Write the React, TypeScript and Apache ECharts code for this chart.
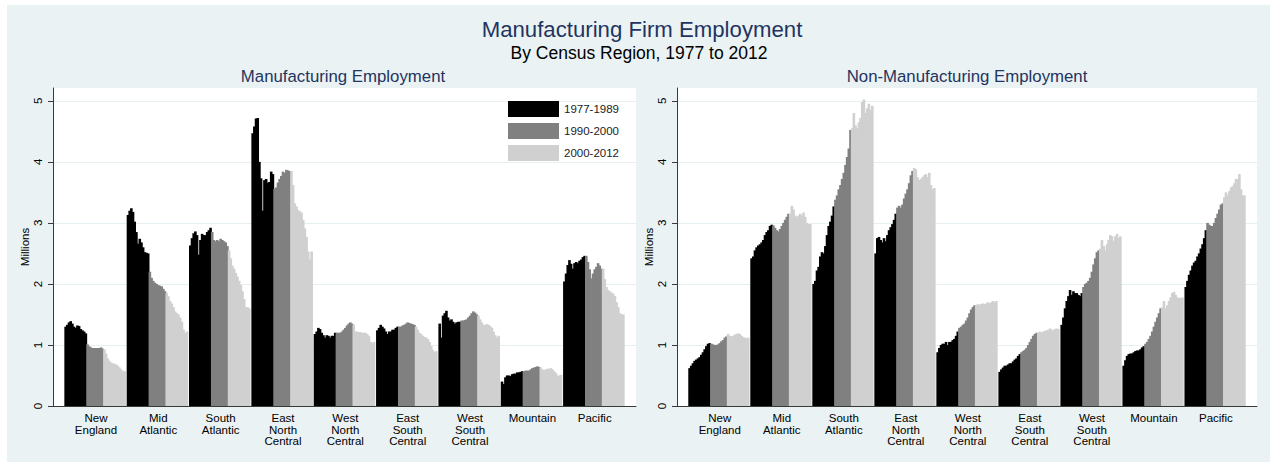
import React, { useEffect, useRef } from "react";
import * as echarts from "echarts";

const FONT = "'Liberation Sans', Arial, sans-serif";

const regionLabels = [
  "New\nEngland",
  "Mid\nAtlantic",
  "South\nAtlantic",
  "East\nNorth\nCentral",
  "West\nNorth\nCentral",
  "East\nSouth\nCentral",
  "West\nSouth\nCentral",
  "Mountain",
  "Pacific",
];

const years = [
  1977, 1978, 1979, 1980, 1981, 1982, 1983, 1984, 1985, 1986, 1987, 1988, 1989,
  1990, 1991, 1992, 1993, 1994, 1995, 1996, 1997, 1998, 1999,
  2000, 2001, 2002, 2003, 2004, 2005, 2006, 2007, 2008, 2009, 2010, 2011, 2012,
];

const periods = ["1977-1989", "1990-2000", "2000-2012"];
const periodStartYears = [1977, 1990, 2000];
const periodColors = ["#000000", "#808080", "#d0d0d0"];

const yTicks = [0, 1, 2, 3, 4, 5];

// Manufacturing employment (millions), 1977..2012
const mfgNewEngland = [1.30, 1.33, 1.37, 1.39, 1.35, 1.30, 1.28, 1.32, 1.31, 1.26, 1.24, 1.22, 1.19,
  1.01, 0.98, 0.96, 0.95, 0.95, 0.95, 0.95, 0.95, 0.96, 0.94,
  0.93, 0.86, 0.78, 0.74, 0.71, 0.70, 0.69, 0.68, 0.66, 0.63, 0.60, 0.57, 0.57];
const mfgMidAtlantic = [3.13, 3.20, 3.24, 3.18, 3.02, 2.85, 2.66, 2.74, 2.68, 2.60, 2.52, 2.51, 2.50,
  2.20, 2.10, 2.05, 2.02, 2.00, 1.98, 1.97, 1.96, 1.92, 1.88,
  1.85, 1.80, 1.72, 1.68, 1.62, 1.55, 1.52, 1.50, 1.45, 1.38, 1.25, 1.20, 1.22];
const mfgSouthAtlantic = [2.63, 2.75, 2.83, 2.86, 2.80, 2.48, 2.72, 2.82, 2.80, 2.80, 2.85, 2.88, 2.92,
  2.85, 2.72, 2.70, 2.72, 2.70, 2.74, 2.72, 2.70, 2.68, 2.62,
  2.55, 2.42, 2.30, 2.25, 2.18, 2.12, 2.05, 1.98, 1.88, 1.75, 1.62, 1.62, 1.60];
const mfgEastNorthCentral = [4.47, 4.58, 4.71, 4.72, 4.00, 3.73, 3.20, 3.70, 3.72, 3.66, 3.67, 3.84, 3.80,
  3.56, 3.58, 3.66, 3.72, 3.77, 3.84, 3.82, 3.87, 3.86, 3.85,
  3.85, 3.62, 3.32, 3.27, 3.21, 3.19, 3.17, 3.05, 2.91, 2.77, 2.53, 2.40, 2.53];
const mfgWestNorthCentral = [1.18, 1.22, 1.28, 1.26, 1.20, 1.16, 1.12, 1.16, 1.15, 1.12, 1.15, 1.15, 1.20,
  1.20, 1.20, 1.20, 1.22, 1.25, 1.28, 1.32, 1.35, 1.37, 1.35,
  1.33, 1.22, 1.22, 1.21, 1.21, 1.20, 1.20, 1.20, 1.18, 1.15, 1.05, 1.03, 1.05];
const mfgEastSouthCentral = [1.24, 1.28, 1.33, 1.30, 1.27, 1.22, 1.18, 1.22, 1.22, 1.25, 1.25, 1.28, 1.30,
  1.30, 1.30, 1.32, 1.33, 1.35, 1.37, 1.36, 1.35, 1.34, 1.33,
  1.30, 1.25, 1.20, 1.18, 1.15, 1.13, 1.12, 1.10, 1.05, 0.98, 0.92, 0.88, 0.90];
const mfgWestSouthCentral = [1.35, 1.12, 1.48, 1.52, 1.56, 1.45, 1.40, 1.42, 1.38, 1.35, 1.37, 1.38, 1.38,
  1.40, 1.40, 1.41, 1.42, 1.45, 1.48, 1.52, 1.55, 1.53, 1.50,
  1.48, 1.42, 1.37, 1.33, 1.33, 1.34, 1.33, 1.31, 1.28, 1.22, 1.16, 1.12, 1.15];
const mfgMountain = [0.40, 0.36, 0.47, 0.50, 0.50, 0.49, 0.52, 0.53, 0.53, 0.55, 0.55, 0.56, 0.57,
  0.57, 0.58, 0.58, 0.58, 0.60, 0.62, 0.63, 0.64, 0.65, 0.64,
  0.63, 0.60, 0.59, 0.60, 0.61, 0.61, 0.62, 0.60, 0.57, 0.54, 0.50, 0.50, 0.51];
const mfgPacific = [2.04, 2.17, 2.31, 2.39, 2.33, 2.25, 2.34, 2.36, 2.34, 2.38, 2.40, 2.44, 2.46,
  2.46, 2.36, 2.24, 2.09, 2.17, 2.24, 2.28, 2.34, 2.30, 2.25,
  2.25, 2.08, 1.95, 1.90, 1.88, 1.86, 1.84, 1.80, 1.70, 1.62, 1.52, 1.50, 1.50];

// Non-manufacturing employment (millions), 1977..2012
const nonNewEngland = [0.62, 0.66, 0.70, 0.74, 0.76, 0.78, 0.80, 0.84, 0.88, 0.93, 0.98, 1.02, 1.03,
  1.02, 1.01, 1.00, 1.00, 1.01, 1.03, 1.06, 1.08, 1.12, 1.14,
  1.18, 1.15, 1.14, 1.15, 1.17, 1.18, 1.19, 1.18, 1.15, 1.13, 1.12, 1.11, 1.12];
const nonMidAtlantic = [2.42, 2.45, 2.55, 2.60, 2.63, 2.65, 2.68, 2.72, 2.80, 2.85, 2.88, 2.95, 2.97,
  2.96, 2.92, 2.88, 2.86, 2.90, 2.95, 3.00, 3.05, 3.10, 3.15,
  3.15, 3.28, 3.22, 3.12, 3.10, 3.12, 3.15, 3.12, 3.17, 3.10, 3.00, 2.98, 2.98];
const nonSouthAtlantic = [2.00, 2.05, 2.22, 2.28, 2.45, 2.52, 2.50, 2.62, 2.80, 2.95, 3.02, 3.12, 3.27,
  3.38, 3.45, 3.55, 3.62, 3.72, 3.82, 3.95, 4.08, 4.22, 4.52,
  4.55, 4.80, 4.60, 4.55, 4.65, 4.72, 4.98, 5.02, 4.80, 4.88, 4.95, 4.85, 4.92];
const nonEastNorthCentral = [2.50, 2.75, 2.77, 2.72, 2.68, 2.75, 2.70, 2.80, 2.88, 2.93, 2.98, 3.05, 3.15,
  3.25, 3.28, 3.25, 3.30, 3.40, 3.48, 3.55, 3.65, 3.78, 3.85,
  3.90, 3.88, 3.75, 3.70, 3.72, 3.75, 3.78, 3.80, 3.75, 3.82, 3.62, 3.55, 3.57];
const nonWestNorthCentral = [0.88, 0.95, 1.00, 1.02, 1.02, 1.05, 1.00, 1.05, 1.05, 1.08, 1.10, 1.15, 1.22,
  1.28, 1.30, 1.33, 1.35, 1.40, 1.45, 1.52, 1.58, 1.62, 1.65,
  1.65, 1.67, 1.66, 1.67, 1.68, 1.67, 1.68, 1.70, 1.68, 1.70, 1.72, 1.70, 1.72];
const nonEastSouthCentral = [0.56, 0.60, 0.63, 0.66, 0.66, 0.68, 0.70, 0.70, 0.73, 0.76, 0.78, 0.82, 0.85,
  0.88, 0.90, 0.92, 0.95, 1.00, 1.05, 1.10, 1.15, 1.18, 1.20,
  1.20, 1.22, 1.20, 1.22, 1.23, 1.24, 1.25, 1.27, 1.25, 1.24, 1.26, 1.27, 1.26];
const nonWestSouthCentral = [1.33, 1.45, 1.60, 1.72, 1.80, 1.90, 1.82, 1.88, 1.85, 1.85, 1.82, 1.80, 1.85,
  1.95, 2.00, 2.02, 2.05, 2.10, 2.20, 2.32, 2.42, 2.52, 2.55,
  2.58, 2.72, 2.62, 2.55, 2.65, 2.72, 2.80, 2.78, 2.70, 2.78, 2.82, 2.75, 2.78];
const nonMountain = [0.66, 0.75, 0.82, 0.85, 0.86, 0.86, 0.88, 0.90, 0.91, 0.91, 0.93, 0.96, 0.98,
  1.02, 1.05, 1.10, 1.15, 1.22, 1.30, 1.38, 1.45, 1.52, 1.60,
  1.62, 1.72, 1.60, 1.65, 1.72, 1.78, 1.85, 1.87, 1.82, 1.78, 1.77, 1.77, 1.78];
const nonPacific = [1.95, 2.05, 2.15, 2.22, 2.30, 2.35, 2.38, 2.45, 2.50, 2.58, 2.65, 2.75, 2.88,
  3.00, 2.97, 2.95, 2.95, 3.00, 3.08, 3.15, 3.22, 3.30, 3.32,
  3.42, 3.50, 3.45, 3.52, 3.58, 3.60, 3.65, 3.72, 3.72, 3.80, 3.55, 3.45, 3.45];

const mfgPanel = [mfgNewEngland, mfgMidAtlantic, mfgSouthAtlantic, mfgEastNorthCentral,
  mfgWestNorthCentral, mfgEastSouthCentral, mfgWestSouthCentral, mfgMountain, mfgPacific];
const nonPanel = [nonNewEngland, nonMidAtlantic, nonSouthAtlantic, nonEastNorthCentral,
  nonWestNorthCentral, nonEastSouthCentral, nonWestSouthCentral, nonMountain, nonPacific];

const PAD = 7;

function periodOf(y: number) {
  let p = 0;
  periodStartYears.forEach((s, i) => { if (y >= s) p = i; });
  return p;
}

function buildPanel(values: number[][]) {
  const cats: string[] = [];
  const labelMap: Record<number, string> = {};
  const data: (number | null)[][] = periods.map(() => []);
  const push = (name: string, p: number, v: number | null) => {
    cats.push(name);
    data.forEach((arr, q) => arr.push(q === p ? v : null));
  };
  for (let i = 0; i < PAD; i++) push("padL" + i, -1, null);
  regionLabels.forEach((r, k) => {
    if (k > 0) push("gap" + k, -1, null);
    years.forEach((y, j) => {
      if (j === 18) labelMap[cats.length] = r;
      push(r + " " + y, periodOf(y), values[k][j]);
    });
  });
  for (let i = 0; i < PAD; i++) push("padR" + i, -1, null);
  return { cats, labelMap, data };
}

export default function App() {
  const ref = useRef<HTMLDivElement>(null);
  useEffect(() => {
    if (!ref.current) return;
    const chart = echarts.init(ref.current, undefined, { renderer: "svg" });
    const panels = [buildPanel(mfgPanel), buildPanel(nonPanel)];
    const grids = [
      { left: 53, top: 88, width: 583, height: 318 },
      { left: 677, top: 88, width: 580, height: 318 },
    ];
    const axisColor = "#3a3a3a";
    const option: any = {
      animation: false,
      backgroundColor: "#ffffff",
      textStyle: { fontFamily: FONT },
      graphic: [
        {
          type: "rect", z: -100, silent: true,
          shape: { x: 7, y: 5, width: 1263, height: 457 },
          style: { fill: "#eaf2f3" },
        },
        {
          type: "text", x: 642, y: 29, silent: true,
          style: { text: "Manufacturing Firm Employment", fontSize: 22.2, fill: "#1f3461", align: "center", verticalAlign: "middle", fontFamily: FONT },
        },
        {
          type: "text", x: 639, y: 53, silent: true,
          style: { text: "By Census Region, 1977 to 2012", fontSize: 17.5, fill: "#000000", align: "center", verticalAlign: "middle", fontFamily: FONT },
        },
        {
          type: "text", x: 343, y: 76, silent: true,
          style: { text: "Manufacturing Employment", fontSize: 16.8, fill: "#1f3461", align: "center", verticalAlign: "middle", fontFamily: FONT },
        },
        {
          type: "text", x: 967, y: 76, silent: true,
          style: { text: "Non-Manufacturing Employment", fontSize: 16.8, fill: "#1f3461", align: "center", verticalAlign: "middle", fontFamily: FONT },
        },
      ],
      legend: {
        data: periods,
        orient: "vertical",
        left: 508,
        top: 101,
        padding: 0,
        itemWidth: 51,
        itemHeight: 16,
        itemGap: 6,
        icon: "rect",
        selectedMode: false,
        textStyle: { fontSize: 11.5, color: "#222222", fontFamily: FONT },
      },
      grid: grids.map((g) => ({ ...g, show: true, backgroundColor: "#ffffff", borderWidth: 0 })),
      xAxis: panels.map((p, g) => ({
        type: "category",
        gridIndex: g,
        data: p.cats,
        axisLine: { lineStyle: { color: axisColor, width: 1 } },
        axisTick: { show: false },
        splitLine: { show: false },
        axisLabel: {
          interval: (i: number) => p.labelMap[i] !== undefined,
          formatter: (_v: string, i: number) => p.labelMap[i] || "",
          fontSize: 11.5,
          lineHeight: 11.7,
          color: "#000000",
          margin: 6,
          fontFamily: FONT,
        },
      })),
      yAxis: grids.map((_g, g) => ({
        type: "value",
        gridIndex: g,
        min: 0,
        max: 5.21,
        interval: 1,
        name: "Millions",
        nameLocation: "middle",
        nameGap: 20,
        nameTextStyle: { fontSize: 11.5, color: "#000000", fontFamily: FONT },
        axisLine: { show: true, lineStyle: { color: axisColor, width: 1 } },
        axisTick: { show: true, length: 5, customValues: yTicks, lineStyle: { color: axisColor } },
        axisLabel: { rotate: 90, margin: 9, fontSize: 11.5, color: "#000000", customValues: yTicks, fontFamily: FONT },
        splitLine: { show: true, lineStyle: { color: "#e6eff1", width: 1 } },
      })),
      series: panels.flatMap((p, g) =>
        periods.map((name, q) => ({
          type: "bar",
          name,
          xAxisIndex: g,
          yAxisIndex: g,
          data: p.data[q],
          barGap: "-100%",
          barWidth: 2.6,
          silent: true,
          itemStyle: { color: periodColors[q] },
        }))
      ),
    };
    chart.setOption(option);
    return () => chart.dispose();
  }, []);
  return (
    <div
      ref={ref}
      style={{ position: "absolute", left: 0, top: 0, width: 1273, height: 468 }}
    />
  );
}
